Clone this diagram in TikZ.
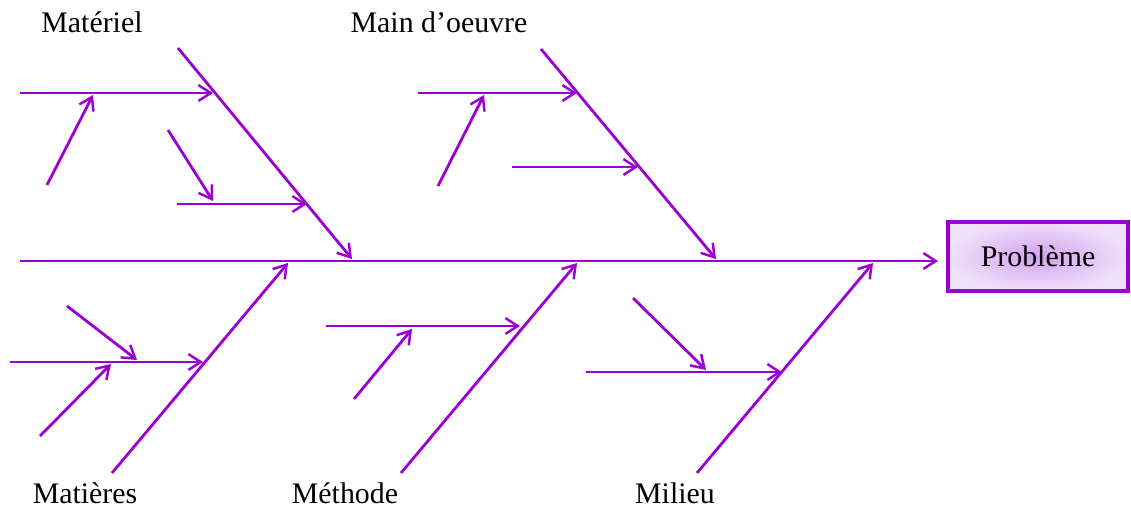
\documentclass[tikz,border=0pt]{standalone}
\usepackage{fontspec}
\setmainfont{Liberation Serif}
\usetikzlibrary{arrows.meta}
\definecolor{fishpurple}{RGB}{155,0,210}
\definecolor{boxin}{RGB}{210,160,238}
\definecolor{boxout}{RGB}{240,224,250}
\begin{document}
\begin{tikzpicture}[x=0.02cm,y=-0.02cm,
  bone/.style={draw=fishpurple,line width=1.6pt,-{Straight Barb[length=7pt,width=9pt,line width=1.4pt]}},
  lbl/.style={font=\fontsize{17}{19}\selectfont,inner sep=0pt}]
\useasboundingbox (0,0) rectangle (1131,511);
% problem box
\node[draw=fishpurple,line width=1.8pt,inner color=boxin,outer color=boxout,
  minimum width=180*0.02cm,minimum height=69*0.02cm,lbl] (prob) at (1038,256.5) {Problème};
% spine
\coordinate (s0) at (20,261);
\coordinate (s1) at (938,261);
\draw[bone] (s0) -- (s1);
% labels
\node[lbl] (lmat) at (92,22) {Matériel};
\node[lbl] (lmo) at (439,22) {Main d'oeuvre};
\node[lbl,anchor=base] (lmt) at (85,503) {Matières};
\node[lbl,anchor=base] (lme) at (345,503) {Méthode};
\node[lbl,anchor=base] (lmi) at (675,503) {Milieu};
% Materiel
\coordinate (a0) at (178,48); \coordinate (a1) at (352,259);
\coordinate (a2) at (20,93); \coordinate (a3) at (213,93);
\coordinate (a4) at (47,185); \coordinate (a5) at (93,95);
\coordinate (a6) at (177,204); \coordinate (a7) at (307,204);
\coordinate (a8) at (168,130); \coordinate (a9) at (213,201);
\draw[bone] (a0) -- (a1);
\draw[bone] (a2) -- (a3);
\draw[bone] (a4) -- (a5);
\draw[bone] (a6) -- (a7);
\draw[bone] (a8) -- (a9);
% Main d'oeuvre
\coordinate (b0) at (541,49); \coordinate (b1) at (716,259);
\coordinate (b2) at (418,93); \coordinate (b3) at (577,93);
\coordinate (b4) at (438,186); \coordinate (b5) at (484,95);
\coordinate (b6) at (512,167); \coordinate (b7) at (638,167);
\draw[bone] (b0) -- (b1);
\draw[bone] (b2) -- (b3);
\draw[bone] (b4) -- (b5);
\draw[bone] (b6) -- (b7);
% Matieres
\coordinate (c0) at (112,473); \coordinate (c1) at (288,263);
\coordinate (c2) at (10,362); \coordinate (c3) at (203,362);
\coordinate (c4) at (67,306); \coordinate (c5) at (137,360);
\coordinate (c6) at (40,436); \coordinate (c7) at (111,364);
\draw[bone] (c0) -- (c1);
\draw[bone] (c2) -- (c3);
\draw[bone] (c4) -- (c5);
\draw[bone] (c6) -- (c7);
% Methode
\coordinate (d0) at (401,473); \coordinate (d1) at (577,263);
\coordinate (d2) at (326,326); \coordinate (d3) at (520,326);
\coordinate (d4) at (354,399); \coordinate (d5) at (412,329);
\draw[bone] (d0) -- (d1);
\draw[bone] (d2) -- (d3);
\draw[bone] (d4) -- (d5);
% Milieu
\coordinate (e0) at (697,473); \coordinate (e1) at (873,263);
\coordinate (e2) at (586,372); \coordinate (e3) at (782,372);
\coordinate (e4) at (633,298); \coordinate (e5) at (706,370);
\draw[bone] (e0) -- (e1);
\draw[bone] (e2) -- (e3);
\draw[bone] (e4) -- (e5);
\end{tikzpicture}
\end{document}
